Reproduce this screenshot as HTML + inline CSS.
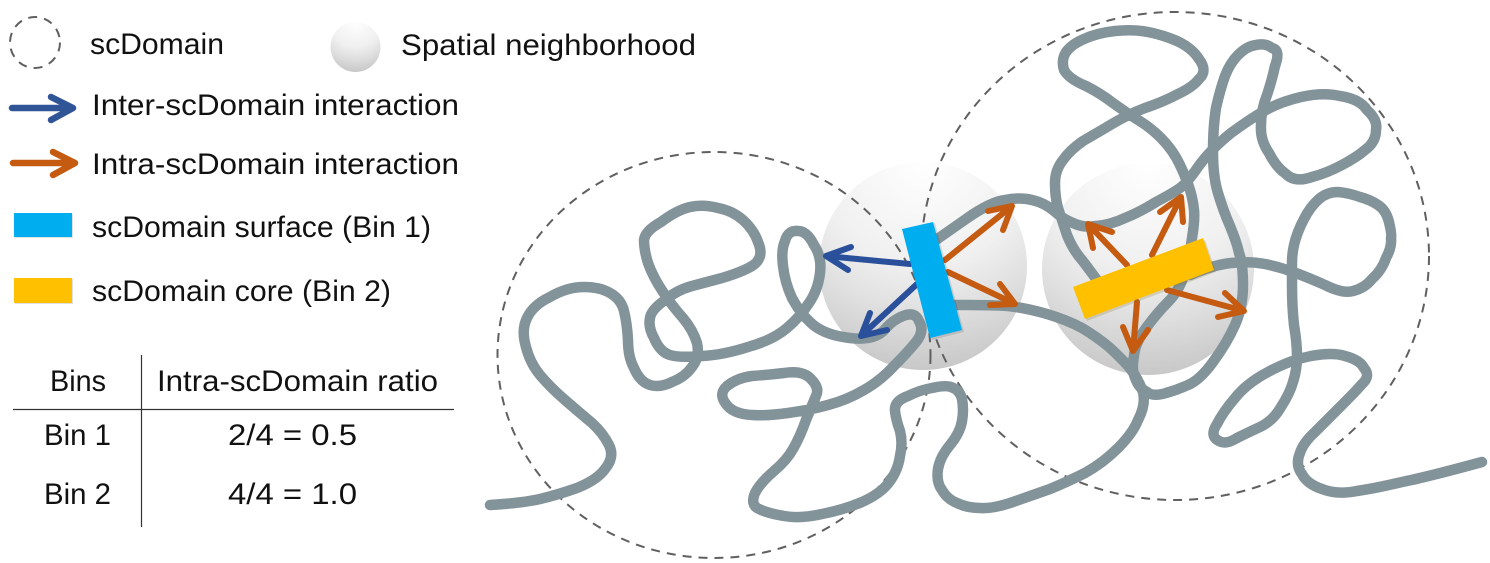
<!DOCTYPE html>
<html>
<head>
<meta charset="utf-8">
<style>
html,body{margin:0;padding:0;background:#fff;width:1490px;height:563px;overflow:hidden}
svg{display:block}
text{font-family:"Liberation Sans",sans-serif;font-size:29.500px;fill:#111}
</style>
</head>
<body>
<svg width="1490" height="563" viewBox="0 0 1490 563" xmlns="http://www.w3.org/2000/svg">
<defs>
<radialGradient id="s" cx="0.5" cy="0" r="1">
<stop offset="0" stop-color="#fff"/>
<stop offset="0.5" stop-color="#f0f0f0"/>
<stop offset="0.72" stop-color="#e0e0e0"/>
<stop offset="1" stop-color="#c8c8c8"/>
</radialGradient>
</defs>

<!-- spheres -->
<circle cx="923" cy="266" r="104" fill="url(#s)"/>
<circle cx="1148" cy="269" r="106" fill="url(#s)"/>
<circle cx="355.500" cy="47" r="25" fill="url(#s)"/>

<!-- dashed domains -->
<g fill="none" stroke="#606060" stroke-width="2" stroke-dasharray="9 7">
<ellipse cx="714" cy="355" rx="216.500" ry="203"/>
<ellipse cx="1175" cy="256" rx="254" ry="244"/>
<ellipse cx="35" cy="42.500" rx="25" ry="25.500"/>
</g>

<!-- chromatin -->
<g fill="none" stroke="#83939a" stroke-width="10.500" stroke-linecap="round" stroke-linejoin="round">
<path d="M490 505 Q523 503 540 499 Q557 495 577 488 Q597 480 605 469 Q615 457 609 445 Q603 433 592 423 Q580 413 565 400 Q550 387 540 375 Q530 363 526 347 Q521 330 527 318 Q533 305 550 297 Q567 287 584 287 Q600 287 610 293 Q621 299 624 311 Q627 323 628 340 Q628 357 634 368 Q640 382 650 385 Q660 388 672 382 Q685 377 692 367 Q700 357 697 343 Q693 330 683 318 Q673 307 663 292 Q653 277 648 263 Q644 250 644 240 Q645 231 661 222 Q677 210 690 207 Q703 204 718 208 Q733 211 743 220 Q754 230 758 242 Q765 258 752 266 Q742 272 722 278 Q707 282 692 286 Q677 290 665 300 Q651 310 650 318 Q648 327 654 338 Q660 352 670 355 Q680 358 702 356 Q723 355 748 347 Q773 340 787 328 Q800 317 809 303 Q818 290 820 273 Q822 257 814 245 Q807 231 798 231 Q788 230 785 241 Q781 250 783 266 Q785 283 792 298 Q800 313 810 322 Q820 332 838 336 Q857 340 868 338 Q880 336 886 328 Q893 320 903 316 Q915 311 919 321 Q925 331 916 342 Q907 353 893 367 Q880 381 864 390 Q847 400 828 405 Q810 410 788 413 Q767 416 752 415 Q733 414 726 404 Q718 394 727 386 Q737 378 752 376 Q767 375 784 373 Q803 370 811 379 Q820 388 816 396 Q813 403 806 420 Q800 437 793 449 Q787 460 774 471 Q760 483 755 493 Q750 505 759 509 Q767 513 784 516 Q800 519 822 514 Q843 510 862 502 Q882 493 890 481 Q898 470 900 456 Q903 443 900 431 Q896 420 895 411 Q894 401 908 396 Q920 390 932 388 Q945 385 951 387 Q960 390 962 399 Q964 410 962 421 Q960 433 950 445 Q940 457 938 469 Q936 482 942 490 Q947 499 957 503 Q967 508 980 508 Q993 509 1013 502 Q1033 495 1050 489 Q1067 482 1085 473 Q1103 463 1118 448 Q1133 433 1138 420 Q1146 405 1143 392 Q1138 378 1129 367 Q1120 357 1109 347 Q1097 337 1082 328 Q1067 320 1047 314 Q1027 308 1008 306 Q990 305 968 305 L945 305"/>
<path d="M936 240 L966 219 Q990 202 1005 200 Q1020 197 1032 200 Q1045 203 1054 211 Q1063 219 1073 223 Q1083 228 1096 226 Q1110 225 1125 218 Q1140 212 1156 202 Q1173 193 1180 188 Q1187 183 1198 167 Q1210 150 1231 133 Q1253 117 1266 110 Q1280 102 1301 97 Q1323 92 1340 96 Q1360 99 1367 110 Q1378 120 1376 130 Q1376 142 1365 150 Q1357 157 1342 165 Q1327 173 1312 177 Q1295 183 1286 174 Q1276 167 1269 153 Q1260 140 1261 125 Q1261 110 1267 95 Q1272 80 1275 66 Q1281 50 1272 48 Q1266 43 1256 45 Q1247 46 1238 55 Q1230 63 1225 76 Q1220 90 1216 108 Q1213 127 1213 152 Q1213 177 1218 193 Q1223 210 1230 226 Q1237 243 1239 253 Q1243 263 1243 285 Q1243 307 1235 325 Q1227 343 1213 362 Q1200 380 1188 385 Q1177 390 1166 393 Q1153 397 1147 392 Q1139 388 1136 380 Q1131 370 1134 356 Q1135 343 1146 328 Q1157 313 1168 302 Q1180 290 1185 272 Q1190 255 1192 238 Q1195 220 1194 210 Q1193 200 1190 190 Q1187 180 1180 165 Q1173 150 1161 138 Q1150 127 1138 120 Q1127 113 1113 103 Q1100 93 1086 86 Q1069 79 1064 70 Q1061 60 1066 52 Q1072 44 1084 39 Q1097 33 1115 31 Q1133 29 1148 32 Q1163 35 1177 41 Q1192 48 1199 59 Q1208 71 1199 79 Q1193 87 1178 94 Q1163 102 1145 108 Q1127 115 1112 124 Q1097 133 1083 141 Q1070 150 1063 160 Q1055 170 1055 183 Q1055 197 1058 208 Q1062 220 1067 235 Q1073 250 1082 260 Q1089 269 1102 287"/>
<path d="M1190 275 Q1213 265 1231 263 Q1250 261 1265 264 Q1280 267 1293 272 Q1307 277 1325 285 Q1343 294 1353 291 Q1365 288 1372 279 Q1382 270 1386 258 Q1392 247 1391 238 Q1392 235 1389 222 Q1386 210 1378 205 Q1371 200 1360 197 Q1349 193 1338 192 Q1327 192 1319 199 Q1310 207 1304 219 Q1297 232 1294 245 Q1292 254 1292 263 Q1292 263 1292 285 Q1292 307 1294 325 Q1297 343 1297 356 Q1297 370 1293 382 Q1290 393 1281 407 Q1273 421 1260 427 Q1247 433 1237 438 Q1226 445 1219 441 Q1209 436 1217 424 Q1223 412 1235 398 Q1247 383 1268 372 Q1290 360 1311 356 Q1333 352 1345 356 Q1360 360 1364 368 Q1371 376 1362 384 Q1357 390 1342 405 Q1327 420 1315 432 Q1303 443 1300 453 Q1295 465 1302 474 Q1307 484 1322 489 Q1337 495 1357 491 Q1377 488 1402 482 Q1427 477 1482 462"/>
</g>

<!-- inter arrows -->
<g fill="none" stroke="#2a4f9b" stroke-width="6" stroke-linecap="round" stroke-linejoin="round">
<path d="M910 264 L826 256 M851 247 L826 256 L848 270"/>
<path d="M917 284 L861 336 M870 313 L861 336 L887 330"/>
<path d="M12 108 L73 108 M51 97 L73 108 L51 120" stroke="#2f5597" stroke-width="6.500"/>
</g>

<!-- intra arrows -->
<g fill="none" stroke="#c55a11" stroke-width="6" stroke-linecap="round" stroke-linejoin="round">
<path d="M945 260 L1012 206 M988 211 L1012 206 L1003 230"/>
<path d="M948 272 L1015 304 M1000 284 L1015 304 L990 305"/>
<path d="M1127 265 L1088 224 M1112 232 L1088 224 L1093 248"/>
<path d="M1152 255 L1181 197 M1160 212 L1181 197 L1183 222"/>
<path d="M1167 290 L1244 311 M1225 293 L1244 311 L1218 317"/>
<path d="M1137 302 L1133 351 M1123 327 L1133 351 L1148 330"/>
<path d="M13 163 L75 163 M53 152 L75 163 L53 175" stroke-width="6.500"/>
</g>

<!-- bars -->
<polygon points="904,231 935,223 964,332 932,340" fill="#000" opacity="0.12"/>
<polygon points="902,229 933,222 962,330 930,338" fill="#00aeef"/>
<polygon points="1075,289 1205,240 1216,272 1087,321" fill="#7a6a20" opacity="0.2"/>
<polygon points="1073,287 1203,238 1214,270 1085,319" fill="#ffc000"/>
<rect x="15" y="214" width="58" height="24" fill="#000" opacity="0.12"/>
<rect x="14" y="213" width="58" height="24" fill="#00aeef"/>
<rect x="15" y="279" width="58" height="25" fill="#000" opacity="0.12"/>
<rect x="14" y="278" width="58" height="25" fill="#ffc000"/>

<!-- legend text -->
<text x="90" y="54" textLength="134" lengthAdjust="spacingAndGlyphs">scDomain</text>
<text x="401" y="55" textLength="295" lengthAdjust="spacingAndGlyphs">Spatial neighborhood</text>
<text x="92" y="115" textLength="367" lengthAdjust="spacingAndGlyphs">Inter-scDomain interaction</text>
<text x="92" y="174" textLength="367" lengthAdjust="spacingAndGlyphs">Intra-scDomain interaction</text>
<text x="92" y="237" textLength="339" lengthAdjust="spacingAndGlyphs">scDomain surface (Bin 1)</text>
<text x="92" y="301" textLength="299" lengthAdjust="spacingAndGlyphs">scDomain core (Bin 2)</text>

<!-- table -->
<path d="M13 409.500 H454 M141.500 355 V527" stroke="#333" stroke-width="1.200" fill="none"/>
<text x="50" y="391" textLength="56" lengthAdjust="spacingAndGlyphs">Bins</text>
<text x="157" y="391" textLength="281" lengthAdjust="spacingAndGlyphs">Intra-scDomain ratio</text>
<text x="44" y="445" textLength="67" lengthAdjust="spacingAndGlyphs">Bin 1</text>
<text x="228" y="445" textLength="129" lengthAdjust="spacingAndGlyphs">2/4 = 0.5</text>
<text x="44" y="504" textLength="67" lengthAdjust="spacingAndGlyphs">Bin 2</text>
<text x="228" y="504" textLength="129" lengthAdjust="spacingAndGlyphs">4/4 = 1.0</text>
</svg>
</body>
</html>
